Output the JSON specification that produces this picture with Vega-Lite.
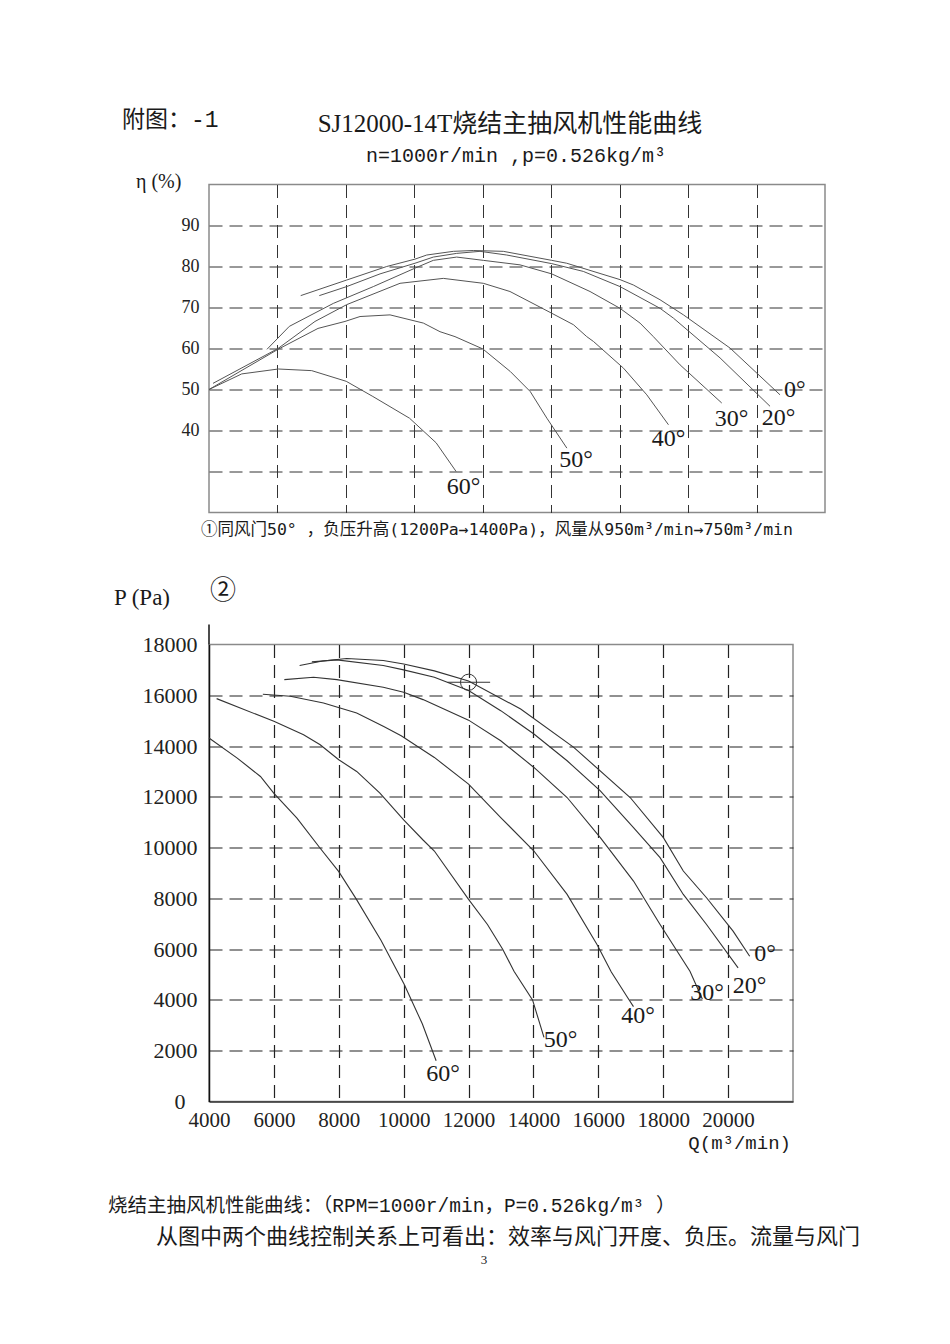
{
  "$schema": "https://vega.github.io/schema/vega-lite/v6.json",
  "background": "white",
  "padding": {"left": 107, "top": 107.5, "right": 20, "bottom": 20},
  "autosize": {"type": "pad"},
  "spacing": 132,
  "bounds": "flush",
  "config": {
    "view": {"stroke": "#8a8a8a", "strokeWidth": 1.5},
    "axis": {"labelOverlap": false, "labelFlush": false, "labelBound": false}
  },
  "datasets": {
    "one": [{}],
    "eff": [
      {"angle": "0", "Q": 6680, "eta": 72.9}, {"angle": "0", "Q": 8024, "eta": 76.7}, {"angle": "0", "Q": 9193, "eta": 80.0}, {"angle": "0", "Q": 10020, "eta": 81.8}, {"angle": "0", "Q": 10362, "eta": 82.8}, {"angle": "0", "Q": 11140, "eta": 83.7}, {"angle": "0", "Q": 11723, "eta": 83.9}, {"angle": "0", "Q": 12600, "eta": 83.7}, {"angle": "0", "Q": 14014, "eta": 81.5}, {"angle": "0", "Q": 14452, "eta": 80.8}, {"angle": "0", "Q": 16010, "eta": 76.8}, {"angle": "0", "Q": 16398, "eta": 75.5}, {"angle": "0", "Q": 17178, "eta": 71.9}, {"angle": "0", "Q": 17864, "eta": 68.2}, {"angle": "0", "Q": 19226, "eta": 60.1}, {"angle": "0", "Q": 20686, "eta": 48.7},
      {"angle": "20", "Q": 7223, "eta": 72.9}, {"angle": "20", "Q": 8024, "eta": 75.1}, {"angle": "20", "Q": 8998, "eta": 78.2}, {"angle": "20", "Q": 10020, "eta": 80.8}, {"angle": "20", "Q": 10555, "eta": 82.3}, {"angle": "20", "Q": 11238, "eta": 83.2}, {"angle": "20", "Q": 11919, "eta": 83.7}, {"angle": "20", "Q": 12700, "eta": 82.8}, {"angle": "20", "Q": 14015, "eta": 80.7}, {"angle": "20", "Q": 14938, "eta": 78.8}, {"angle": "20", "Q": 16010, "eta": 75.1}, {"angle": "20", "Q": 17180, "eta": 69.8}, {"angle": "20", "Q": 17572, "eta": 67.4}, {"angle": "20", "Q": 18934, "eta": 57.7}, {"angle": "20", "Q": 20394, "eta": 45.9},
      {"angle": "30", "Q": 5694, "eta": 59.8}, {"angle": "30", "Q": 6347, "eta": 65.4}, {"angle": "30", "Q": 7633, "eta": 71.0}, {"angle": "30", "Q": 8802, "eta": 75.1}, {"angle": "30", "Q": 10020, "eta": 79.6}, {"angle": "30", "Q": 10555, "eta": 81.5}, {"angle": "30", "Q": 11238, "eta": 82.3}, {"angle": "30", "Q": 12016, "eta": 81.5}, {"angle": "30", "Q": 13088, "eta": 80.4}, {"angle": "30", "Q": 14015, "eta": 78.2}, {"angle": "30", "Q": 15134, "eta": 73.9}, {"angle": "30", "Q": 16010, "eta": 69.8}, {"angle": "30", "Q": 16595, "eta": 66.2}, {"angle": "30", "Q": 16984, "eta": 62.9}, {"angle": "30", "Q": 17766, "eta": 56.0}, {"angle": "30", "Q": 18983, "eta": 46.7},
      {"angle": "40", "Q": 4117, "eta": 51.5}, {"angle": "40", "Q": 6016, "eta": 60.0}, {"angle": "40", "Q": 7097, "eta": 66.6}, {"angle": "40", "Q": 8024, "eta": 70.7}, {"angle": "40", "Q": 9582, "eta": 75.9}, {"angle": "40", "Q": 10847, "eta": 77.1}, {"angle": "40", "Q": 12016, "eta": 75.9}, {"angle": "40", "Q": 12795, "eta": 73.9}, {"angle": "40", "Q": 14015, "eta": 68.6}, {"angle": "40", "Q": 14650, "eta": 65.8}, {"angle": "40", "Q": 15038, "eta": 62.9}, {"angle": "40", "Q": 15236, "eta": 61.7}, {"angle": "40", "Q": 16112, "eta": 55.2}, {"angle": "40", "Q": 16793, "eta": 48.7}, {"angle": "40", "Q": 17426, "eta": 41.4},
      {"angle": "50", "Q": 4000, "eta": 50.0}, {"angle": "50", "Q": 6016, "eta": 59.8}, {"angle": "50", "Q": 7185, "eta": 64.9}, {"angle": "50", "Q": 7974, "eta": 66.6}, {"angle": "50", "Q": 8413, "eta": 67.8}, {"angle": "50", "Q": 9290, "eta": 68.2}, {"angle": "50", "Q": 10264, "eta": 66.2}, {"angle": "50", "Q": 10750, "eta": 64.1}, {"angle": "50", "Q": 11188, "eta": 62.9}, {"angle": "50", "Q": 12000, "eta": 59.9}, {"angle": "50", "Q": 12803, "eta": 54.4}, {"angle": "50", "Q": 13387, "eta": 49.5}, {"angle": "50", "Q": 13873, "eta": 43.0}, {"angle": "50", "Q": 14457, "eta": 35.7},
      {"angle": "60", "Q": 4000, "eta": 50.0}, {"angle": "60", "Q": 4956, "eta": 53.8}, {"angle": "60", "Q": 6025, "eta": 55.0}, {"angle": "60", "Q": 7001, "eta": 54.6}, {"angle": "60", "Q": 8010, "eta": 52.0}, {"angle": "60", "Q": 8788, "eta": 48.3}, {"angle": "60", "Q": 9859, "eta": 43.0}, {"angle": "60", "Q": 10637, "eta": 37.0}, {"angle": "60", "Q": 11221, "eta": 30.0}
    ],
    "effLab": [
      {"label": "0°", "Q": 21120, "eta": 50.0},
      {"label": "20°", "Q": 20640, "eta": 43.0},
      {"label": "30°", "Q": 19268, "eta": 42.8},
      {"label": "40°", "Q": 17427, "eta": 37.9},
      {"label": "50°", "Q": 14724, "eta": 32.8},
      {"label": "60°", "Q": 11437, "eta": 26.3}
    ],
    "pres": [
      {"angle": "0", "Q": 6793, "P": 17171}, {"angle": "0", "Q": 7500, "P": 17350}, {"angle": "0", "Q": 8246, "P": 17447}, {"angle": "0", "Q": 9371, "P": 17368}, {"angle": "0", "Q": 10000, "P": 17230}, {"angle": "0", "Q": 10946, "P": 16960}, {"angle": "0", "Q": 12000, "P": 16560}, {"angle": "0", "Q": 13606, "P": 15460}, {"angle": "0", "Q": 15243, "P": 13947}, {"angle": "0", "Q": 16982, "P": 11973}, {"angle": "0", "Q": 18005, "P": 10394}, {"angle": "0", "Q": 18619, "P": 9078}, {"angle": "0", "Q": 19335, "P": 8025}, {"angle": "0", "Q": 20153, "P": 6709}, {"angle": "0", "Q": 20665, "P": 5722},
      {"angle": "20", "Q": 7171, "P": 17316}, {"angle": "20", "Q": 7939, "P": 17395}, {"angle": "20", "Q": 9371, "P": 17171}, {"angle": "20", "Q": 10000, "P": 17000}, {"angle": "20", "Q": 10946, "P": 16710}, {"angle": "20", "Q": 12000, "P": 16184}, {"angle": "20", "Q": 12992, "P": 15394}, {"angle": "20", "Q": 14015, "P": 14473}, {"angle": "20", "Q": 15038, "P": 13420}, {"angle": "20", "Q": 16061, "P": 12236}, {"angle": "20", "Q": 17084, "P": 10789}, {"angle": "20", "Q": 17903, "P": 9604}, {"angle": "20", "Q": 18619, "P": 8156}, {"angle": "20", "Q": 19335, "P": 6972}, {"angle": "20", "Q": 20308, "P": 5263},
      {"angle": "30", "Q": 6322, "P": 16618}, {"angle": "30", "Q": 7222, "P": 16711}, {"angle": "30", "Q": 7939, "P": 16618}, {"angle": "30", "Q": 9371, "P": 16316}, {"angle": "30", "Q": 10000, "P": 16118}, {"angle": "30", "Q": 10598, "P": 15829}, {"angle": "30", "Q": 12000, "P": 15020}, {"angle": "30", "Q": 12992, "P": 14210}, {"angle": "30", "Q": 14015, "P": 13157}, {"angle": "30", "Q": 15038, "P": 11973}, {"angle": "30", "Q": 16061, "P": 10394}, {"angle": "30", "Q": 17084, "P": 8683}, {"angle": "30", "Q": 17903, "P": 6972}, {"angle": "30", "Q": 18824, "P": 5130}, {"angle": "30", "Q": 19205, "P": 4040},
      {"angle": "40", "Q": 5660, "P": 16040}, {"angle": "40", "Q": 6506, "P": 15960}, {"angle": "40", "Q": 7529, "P": 15697}, {"angle": "40", "Q": 8552, "P": 15303}, {"angle": "40", "Q": 9371, "P": 14776}, {"angle": "40", "Q": 9923, "P": 14407}, {"angle": "40", "Q": 10946, "P": 13552}, {"angle": "40", "Q": 12000, "P": 12499}, {"angle": "40", "Q": 12992, "P": 11183}, {"angle": "40", "Q": 14015, "P": 9867}, {"angle": "40", "Q": 15038, "P": 8157}, {"angle": "40", "Q": 15959, "P": 6182}, {"angle": "40", "Q": 16400, "P": 5100}, {"angle": "40", "Q": 16950, "P": 4000}, {"angle": "40", "Q": 17083, "P": 3737},
      {"angle": "50", "Q": 4235, "P": 15868}, {"angle": "50", "Q": 6000, "P": 14974}, {"angle": "50", "Q": 6915, "P": 14447}, {"angle": "50", "Q": 7427, "P": 14053}, {"angle": "50", "Q": 8000, "P": 13460}, {"angle": "50", "Q": 8552, "P": 13000}, {"angle": "50", "Q": 9268, "P": 12145}, {"angle": "50", "Q": 10000, "P": 11092}, {"angle": "50", "Q": 10598, "P": 10300}, {"angle": "50", "Q": 10946, "P": 9867}, {"angle": "50", "Q": 12000, "P": 7959}, {"angle": "50", "Q": 12583, "P": 6972}, {"angle": "50", "Q": 13052, "P": 6000}, {"angle": "50", "Q": 13401, "P": 5129}, {"angle": "50", "Q": 13972, "P": 4000}, {"angle": "50", "Q": 14325, "P": 2526},
      {"angle": "60", "Q": 4000, "P": 14316}, {"angle": "60", "Q": 4870, "P": 13526}, {"angle": "60", "Q": 5586, "P": 12803}, {"angle": "60", "Q": 5995, "P": 12145}, {"angle": "60", "Q": 6711, "P": 11158}, {"angle": "60", "Q": 7427, "P": 9974}, {"angle": "60", "Q": 8000, "P": 9053}, {"angle": "60", "Q": 8526, "P": 8000}, {"angle": "60", "Q": 9304, "P": 6342}, {"angle": "60", "Q": 10011, "P": 4632}, {"angle": "60", "Q": 10577, "P": 3053}, {"angle": "60", "Q": 11001, "P": 1605}
    ],
    "presLab": [
      {"label": "0°", "Q": 21140, "P": 5800},
      {"label": "20°", "Q": 20660, "P": 4560},
      {"label": "30°", "Q": 19348, "P": 4292},
      {"label": "40°", "Q": 17222, "P": 3386},
      {"label": "50°", "Q": 14836, "P": 2441},
      {"label": "60°", "Q": 11212, "P": 1102}
    ]
  },
  "vconcat": [
    {
      "width": 616,
      "height": 328,
      "layer": [
        {
          "data": {"name": "eff"},
          "mark": {"type": "line", "color": "#555555", "strokeWidth": 1},
          "encoding": {
            "x": {"field": "Q", "type": "quantitative", "scale": {"domain": [4000, 22000], "nice": false, "zero": false},
              "axis": {"values": [6000, 8000, 10000, 12000, 14000, 16000, 18000, 20000], "labels": false, "ticks": false, "domain": false, "title": null, "grid": true, "gridDash": [13, 7], "gridColor": "#333333", "gridWidth": 1}},
            "y": {"field": "eta", "type": "quantitative", "scale": {"domain": [20, 100], "nice": false, "zero": false},
              "axis": {"values": [30, 40, 50, 60, 70, 80, 90], "format": "d", "labelExpr": "datum.value == 30 ? '' : datum.label", "ticks": false, "domain": false, "title": null, "grid": true, "gridDash": [13, 7], "gridColor": "#333333", "gridWidth": 1, "labelFont": "Liberation Serif", "labelFontSize": 18, "labelColor": "#222222", "labelPadding": 10}},
            "detail": {"field": "angle"}
          }
        },
        {
          "data": {"name": "effLab"},
          "mark": {"type": "text", "font": "Liberation Serif", "fontSize": 24, "color": "#1a1a1a", "align": "center", "baseline": "middle"},
          "encoding": {
            "x": {"field": "Q", "type": "quantitative", "scale": {"domain": [4000, 22000], "nice": false, "zero": false}},
            "y": {"field": "eta", "type": "quantitative", "scale": {"domain": [20, 100], "nice": false, "zero": false}},
            "text": {"field": "label"}
          }
        },
        {
          "data": {"name": "one"},
          "mark": {"type": "text", "font": "Liberation Mono, Noto Sans CJK SC", "fontSize": 23, "color": "#1a1a1a", "align": "left", "baseline": "middle"},
          "encoding": {
            "x": {"datum": 1458, "type": "quantitative", "scale": {"domain": [4000, 22000], "nice": false, "zero": false}},
            "y": {"datum": 115.7, "type": "quantitative", "scale": {"domain": [20, 100], "nice": false, "zero": false}},
            "text": {"value": "附图：-1"}
          }
        },
        {
          "data": {"name": "one"},
          "mark": {"type": "text", "font": "Liberation Serif, Noto Sans CJK SC", "fontSize": 25, "color": "#1a1a1a", "align": "center", "baseline": "middle"},
          "encoding": {
            "x": {"datum": 12795, "type": "quantitative", "scale": {"domain": [4000, 22000], "nice": false, "zero": false}},
            "y": {"datum": 114.76, "type": "quantitative", "scale": {"domain": [20, 100], "nice": false, "zero": false}},
            "text": {"value": "SJ12000-14T烧结主抽风机性能曲线"}
          }
        },
        {
          "data": {"name": "one"},
          "mark": {"type": "text", "font": "Liberation Mono", "fontSize": 20, "color": "#1a1a1a", "align": "center", "baseline": "middle"},
          "encoding": {
            "x": {"datum": 12971, "type": "quantitative", "scale": {"domain": [4000, 22000], "nice": false, "zero": false}},
            "y": {"datum": 106.9, "type": "quantitative", "scale": {"domain": [20, 100], "nice": false, "zero": false}},
            "text": {"value": "n=1000r/min ,p=0.526kg/m³"}
          }
        },
        {
          "data": {"name": "one"},
          "mark": {"type": "text", "font": "Liberation Serif", "fontSize": 20, "color": "#1a1a1a", "align": "left", "baseline": "middle"},
          "encoding": {
            "x": {"datum": 1867, "type": "quantitative", "scale": {"domain": [4000, 22000], "nice": false, "zero": false}},
            "y": {"datum": 100.73, "type": "quantitative", "scale": {"domain": [20, 100], "nice": false, "zero": false}},
            "text": {"value": "η (%)"}
          }
        },
        {
          "data": {"name": "one"},
          "mark": {"type": "text", "font": "DejaVu Sans Mono, Noto Sans CJK SC", "fontSize": 16.5, "color": "#1a1a1a", "align": "left", "baseline": "middle"},
          "encoding": {
            "x": {"datum": 3766, "type": "quantitative", "scale": {"domain": [4000, 22000], "nice": false, "zero": false}},
            "y": {"datum": 15.85, "type": "quantitative", "scale": {"domain": [20, 100], "nice": false, "zero": false}},
            "text": {"value": "①同风门50° ，负压升高(1200Pa→1400Pa)，风量从950m³/min→750m³/min"}
          }
        }
      ]
    },
    {
      "width": 584,
      "height": 457,
      "layer": [
        {
          "data": {"name": "pres"},
          "mark": {"type": "line", "color": "#333333", "strokeWidth": 1.1},
          "encoding": {
            "x": {"field": "Q", "type": "quantitative", "scale": {"domain": [4000, 22000], "nice": false, "zero": false},
              "axis": {"values": [4000, 6000, 8000, 10000, 12000, 14000, 16000, 18000, 20000], "format": "d", "title": null, "ticks": false, "domain": true, "domainColor": "#333333", "domainWidth": 1.5, "grid": true, "gridDash": [13, 7], "gridColor": "#222222", "gridWidth": 1.2, "gridOpacity": {"condition": {"test": "datum.value == 4000", "value": 0}, "value": 1}, "labelFont": "Liberation Serif", "labelFontSize": 21, "labelColor": "#222222", "labelPadding": 8}},
            "y": {"field": "P", "type": "quantitative", "scale": {"domain": [0, 18000], "nice": false, "zero": false},
              "axis": {"values": [0, 2000, 4000, 6000, 8000, 10000, 12000, 14000, 16000, 18000], "format": "d", "title": null, "ticks": false, "domain": true, "domainColor": "#111111", "domainWidth": 1.5, "grid": true, "gridDash": [13, 7], "gridColor": "#222222", "gridWidth": 1.2, "gridOpacity": {"condition": {"test": "datum.value == 0 || datum.value == 18000", "value": 0}, "value": 1}, "labelFont": "Liberation Serif", "labelFontSize": 22, "labelColor": "#222222", "labelPadding": {"condition": {"test": "datum.value == 0", "value": 24}, "value": 12}}},
            "detail": {"field": "angle"}
          }
        },
        {
          "data": {"name": "presLab"},
          "mark": {"type": "text", "font": "Liberation Serif", "fontSize": 24, "color": "#1a1a1a", "align": "center", "baseline": "middle"},
          "encoding": {
            "x": {"field": "Q", "type": "quantitative", "scale": {"domain": [4000, 22000], "nice": false, "zero": false}},
            "y": {"field": "P", "type": "quantitative", "scale": {"domain": [0, 18000], "nice": false, "zero": false}},
            "text": {"field": "label"}
          }
        },
        {
          "data": {"name": "one"},
          "mark": {"type": "point", "shape": "circle", "filled": false, "size": 260, "stroke": "#333333", "strokeWidth": 1, "opacity": 1},
          "encoding": {
            "x": {"datum": 12000, "type": "quantitative", "scale": {"domain": [4000, 22000], "nice": false, "zero": false}},
            "y": {"datum": 16513, "type": "quantitative", "scale": {"domain": [0, 18000], "nice": false, "zero": false}}
          }
        },
        {
          "data": {"name": "one"},
          "mark": {"type": "rule", "color": "#333333", "strokeWidth": 1},
          "encoding": {
            "x": {"datum": 11355, "type": "quantitative", "scale": {"domain": [4000, 22000], "nice": false, "zero": false}},
            "x2": {"datum": 12665},
            "y": {"datum": 16513, "type": "quantitative", "scale": {"domain": [0, 18000], "nice": false, "zero": false}}
          }
        },
        {
          "data": {"name": "one"},
          "mark": {"type": "rule", "color": "#111111", "strokeWidth": 1.5},
          "encoding": {
            "x": {"datum": 4000, "type": "quantitative", "scale": {"domain": [4000, 22000], "nice": false, "zero": false}},
            "y": {"datum": 18000, "type": "quantitative", "scale": {"domain": [0, 18000], "nice": false, "zero": false}},
            "y2": {"datum": 18790}
          }
        },
        {
          "data": {"name": "one"},
          "mark": {"type": "text", "font": "Liberation Serif", "fontSize": 23, "color": "#1a1a1a", "align": "left", "baseline": "middle"},
          "encoding": {
            "x": {"datum": 1072, "type": "quantitative", "scale": {"domain": [4000, 22000], "nice": false, "zero": false}},
            "y": {"datum": 19812, "type": "quantitative", "scale": {"domain": [0, 18000], "nice": false, "zero": false}},
            "text": {"value": "P (Pa)"}
          }
        },
        {
          "data": {"name": "one"},
          "mark": {"type": "text", "font": "Noto Sans CJK SC", "fontSize": 26, "color": "#1a1a1a", "align": "center", "baseline": "middle"},
          "encoding": {
            "x": {"datum": 4431, "type": "quantitative", "scale": {"domain": [4000, 22000], "nice": false, "zero": false}},
            "y": {"datum": 20088, "type": "quantitative", "scale": {"domain": [0, 18000], "nice": false, "zero": false}},
            "text": {"value": "②"}
          }
        },
        {
          "data": {"name": "one"},
          "mark": {"type": "text", "font": "Liberation Mono", "fontSize": 19, "color": "#1a1a1a", "align": "right", "baseline": "middle"},
          "encoding": {
            "x": {"datum": 21937, "type": "quantitative", "scale": {"domain": [4000, 22000], "nice": false, "zero": false}},
            "y": {"datum": -1616, "type": "quantitative", "scale": {"domain": [0, 18000], "nice": false, "zero": false}},
            "text": {"value": "Q(m³/min)"}
          }
        },
        {
          "data": {"name": "one"},
          "mark": {"type": "text", "font": "Liberation Mono, Noto Sans CJK SC", "fontSize": 19.5, "color": "#1a1a1a", "align": "left", "baseline": "middle"},
          "encoding": {
            "x": {"datum": 887, "type": "quantitative", "scale": {"domain": [4000, 22000], "nice": false, "zero": false}},
            "y": {"datum": -4100, "type": "quantitative", "scale": {"domain": [0, 18000], "nice": false, "zero": false}},
            "text": {"value": "烧结主抽风机性能曲线：（RPM=1000r/min，P=0.526kg/m³ ）"}
          }
        },
        {
          "data": {"name": "one"},
          "mark": {"type": "text", "font": "Noto Sans CJK SC", "fontSize": 22, "color": "#1a1a1a", "align": "left", "baseline": "middle"},
          "encoding": {
            "x": {"datum": 2367, "type": "quantitative", "scale": {"domain": [4000, 22000], "nice": false, "zero": false}},
            "y": {"datum": -5330, "type": "quantitative", "scale": {"domain": [0, 18000], "nice": false, "zero": false}},
            "text": {"value": "从图中两个曲线控制关系上可看出：效率与风门开度、负压。流量与风门"}
          }
        },
        {
          "data": {"name": "one"},
          "mark": {"type": "text", "font": "Liberation Serif", "fontSize": 13, "color": "#1a1a1a", "align": "center", "baseline": "middle"},
          "encoding": {
            "x": {"datum": 12476, "type": "quantitative", "scale": {"domain": [4000, 22000], "nice": false, "zero": false}},
            "y": {"datum": -6225, "type": "quantitative", "scale": {"domain": [0, 18000], "nice": false, "zero": false}},
            "text": {"value": "3"}
          }
        }
      ]
    }
  ]
}
